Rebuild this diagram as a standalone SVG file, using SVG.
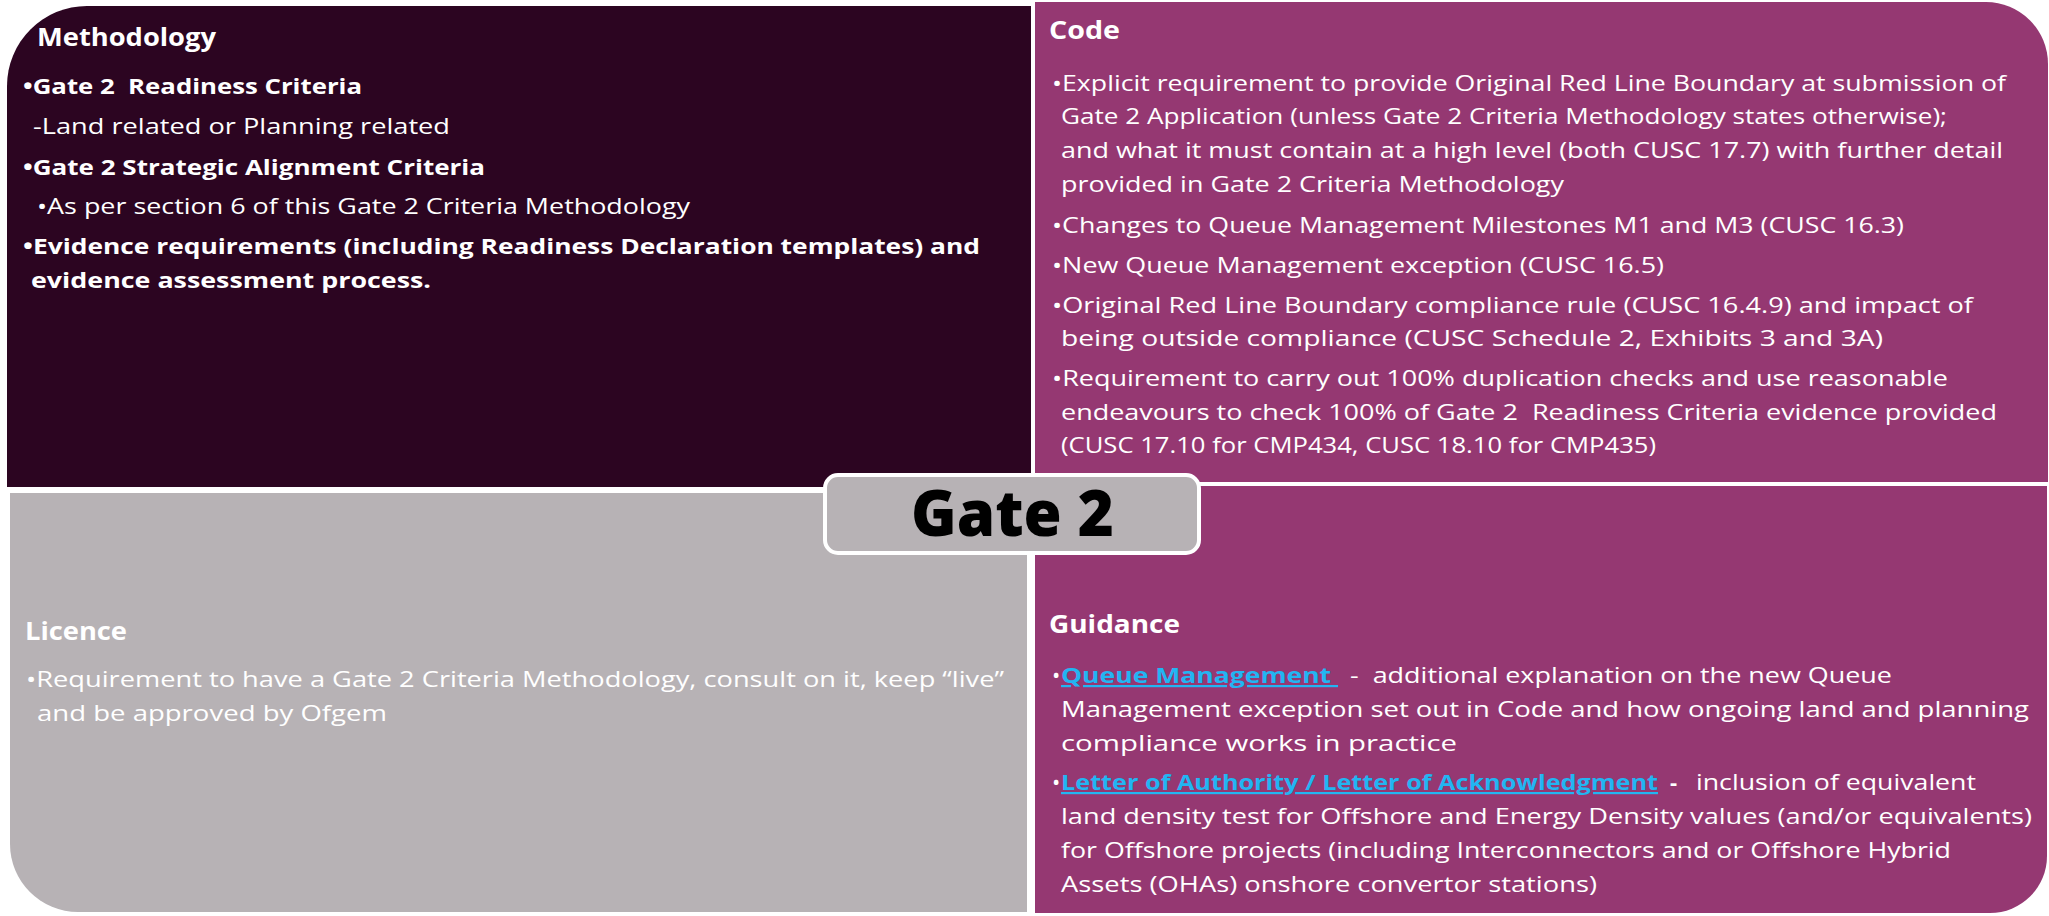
<svg xmlns="http://www.w3.org/2000/svg" width="2049" height="916" viewBox="0 0 2049 916">
  <style>
    text { font-family: "Open Sans", "Liberation Sans", sans-serif; fill: #ffffff; white-space: pre; }
    .title { font-size: 25px; font-weight: 700; }
    .body { font-size: 22px; font-weight: 400; }
    .bold { font-size: 22px; font-weight: 700; }
    .link { font-size: 22px; font-weight: 700; fill: #22B5F2; text-decoration: underline; }
    .gate { font-size: 64px; font-weight: 800; fill: #000000; }
  </style>
  <rect width="2049" height="916" fill="#ffffff"/>

  <!-- Methodology quadrant -->
  <g id="methodology">
    <path d="M7,86 A80,80 0 0 1 87,6 H1031 V487 H7 Z" fill="#2C0521"/>
    <text class="title" x="37" y="46" textLength="179" lengthAdjust="spacingAndGlyphs">Methodology</text>
    <text class="bold" x="23" y="94" textLength="339" lengthAdjust="spacingAndGlyphs">•Gate 2  Readiness Criteria</text>
    <text class="body" x="33" y="134" textLength="417" lengthAdjust="spacingAndGlyphs">-Land related or Planning related</text>
    <text class="bold" x="23" y="175" textLength="462" lengthAdjust="spacingAndGlyphs">•Gate 2 Strategic Alignment Criteria</text>
    <text class="body" x="37" y="214" textLength="653" lengthAdjust="spacingAndGlyphs">•As per section 6 of this Gate 2 Criteria Methodology</text>
    <text class="bold" x="23" y="254" textLength="957" lengthAdjust="spacingAndGlyphs">•Evidence requirements (including Readiness Declaration templates) and</text>
    <text class="bold" x="31" y="288" textLength="400" lengthAdjust="spacingAndGlyphs">evidence assessment process.</text>
  </g>

  <!-- Code quadrant -->
  <g id="code">
    <path d="M1035,2 H1986 A62,62 0 0 1 2048,64 V482 H1035 Z" fill="#953872"/>
    <text class="title" x="1049" y="39" textLength="71" lengthAdjust="spacingAndGlyphs">Code</text>
    <text class="body" x="1052" y="91" textLength="954" lengthAdjust="spacingAndGlyphs">•Explicit requirement to provide Original Red Line Boundary at submission of</text>
    <text class="body" x="1061" y="124" textLength="886" lengthAdjust="spacingAndGlyphs">Gate 2 Application (unless Gate 2 Criteria Methodology states otherwise);</text>
    <text class="body" x="1061" y="158" textLength="942" lengthAdjust="spacingAndGlyphs">and what it must contain at a high level (both CUSC 17.7) with further detail</text>
    <text class="body" x="1061" y="192" textLength="503" lengthAdjust="spacingAndGlyphs">provided in Gate 2 Criteria Methodology</text>
    <text class="body" x="1052" y="233" textLength="852" lengthAdjust="spacingAndGlyphs">•Changes to Queue Management Milestones M1 and M3 (CUSC 16.3)</text>
    <text class="body" x="1052" y="273" textLength="612" lengthAdjust="spacingAndGlyphs">•New Queue Management exception (CUSC 16.5)</text>
    <text class="body" x="1052" y="313" textLength="921" lengthAdjust="spacingAndGlyphs">•Original Red Line Boundary compliance rule (CUSC 16.4.9) and impact of</text>
    <text class="body" x="1061" y="346" textLength="822" lengthAdjust="spacingAndGlyphs">being outside compliance (CUSC Schedule 2, Exhibits 3 and 3A)</text>
    <text class="body" x="1052" y="386" textLength="896" lengthAdjust="spacingAndGlyphs">•Requirement to carry out 100% duplication checks and use reasonable</text>
    <text class="body" x="1061" y="420" textLength="936" lengthAdjust="spacingAndGlyphs">endeavours to check 100% of Gate 2  Readiness Criteria evidence provided</text>
    <text class="body" x="1061" y="453" textLength="595" lengthAdjust="spacingAndGlyphs">(CUSC 17.10 for CMP434, CUSC 18.10 for CMP435)</text>
  </g>

  <!-- Licence quadrant -->
  <g id="licence">
    <path d="M10,493 H1027 V912 H78 A68,68 0 0 1 10,844 Z" fill="#B7B2B5"/>
    <text class="title" x="25" y="640" textLength="102" lengthAdjust="spacingAndGlyphs">Licence</text>
    <text class="body" x="26" y="687" textLength="978" lengthAdjust="spacingAndGlyphs">•Requirement to have a Gate 2 Criteria Methodology, consult on it, keep “live”</text>
    <text class="body" x="37" y="721" textLength="350" lengthAdjust="spacingAndGlyphs">and be approved by Ofgem</text>
  </g>

  <!-- Guidance quadrant -->
  <g id="guidance">
    <path d="M1035,486 H2047 V856 A57,57 0 0 1 1990,913 H1035 Z" fill="#953872"/>
    <text class="title" x="1049" y="633" textLength="131" lengthAdjust="spacingAndGlyphs">Guidance</text>
    <text class="body" x="1052" y="683">•</text>
    <text class="link" x="1061" y="683" textLength="277" lengthAdjust="spacingAndGlyphs">Queue Management </text>
    <text class="body" x="1350" y="683" textLength="542" lengthAdjust="spacingAndGlyphs">-  additional explanation on the new Queue</text>
    <text class="body" x="1061" y="717" textLength="968" lengthAdjust="spacingAndGlyphs">Management exception set out in Code and how ongoing land and planning</text>
    <text class="body" x="1061" y="751" textLength="396" lengthAdjust="spacingAndGlyphs">compliance works in practice</text>
    <text class="body" x="1052" y="790">•</text>
    <text class="link" x="1061" y="790" textLength="597" lengthAdjust="spacingAndGlyphs">Letter of Authority / Letter of Acknowledgment</text>
    <text class="bold" x="1670" y="790">-</text>
    <text class="body" x="1696" y="790" textLength="280" lengthAdjust="spacingAndGlyphs">inclusion of equivalent</text>
    <text class="body" x="1061" y="824" textLength="971" lengthAdjust="spacingAndGlyphs">land density test for Offshore and Energy Density values (and/or equivalents)</text>
    <text class="body" x="1061" y="858" textLength="890" lengthAdjust="spacingAndGlyphs">for Offshore projects (including Interconnectors and or Offshore Hybrid</text>
    <text class="body" x="1061" y="892" textLength="536" lengthAdjust="spacingAndGlyphs">Assets (OHAs) onshore convertor stations)</text>
  </g>

  <!-- Central label -->
  <g id="gate2">
    <rect x="825" y="475" width="374" height="78" rx="13" fill="#B7B2B5" stroke="#ffffff" stroke-width="4"/>
    <text class="gate" x="911" y="536" textLength="203" lengthAdjust="spacingAndGlyphs">Gate 2</text>
  </g>
</svg>
